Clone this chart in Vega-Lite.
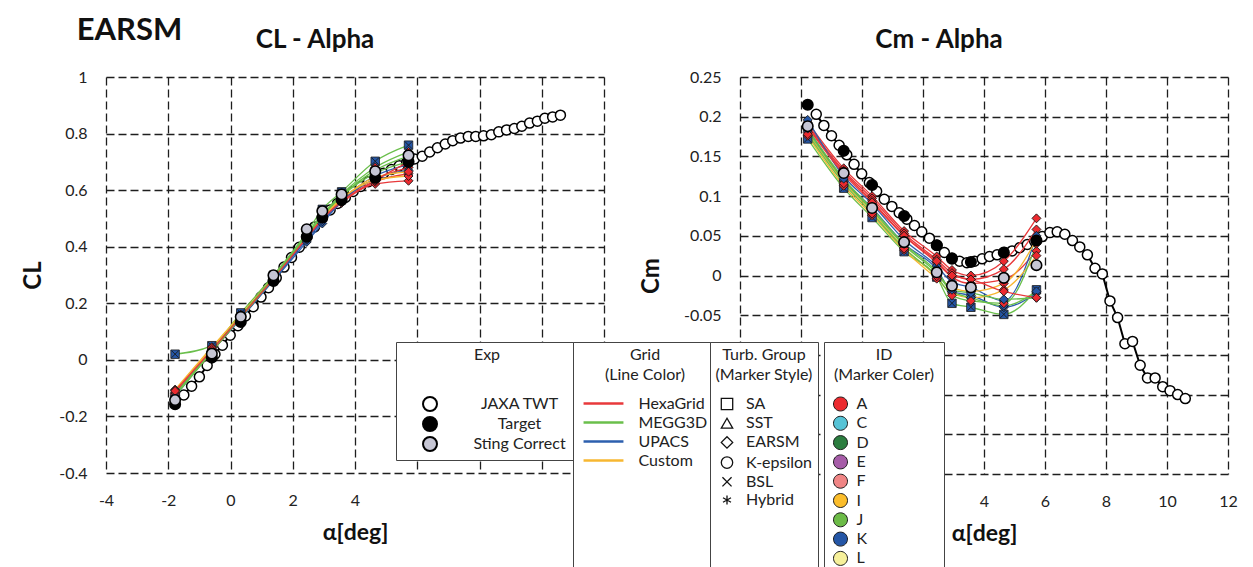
{
"$schema": "https://vega.github.io/schema/vega-lite/v6.json",
"padding": {"left": 21, "top": 15, "right": 5, "bottom": 0},
"title": {"text": "EARSM", "anchor": "start", "fontSize": 31, "offset": -20, "dx": 55},
"spacing": 35,
"datasets": {
"cfd": [
{"p":"CL","s":"S1","g":"HexaGrid","t":"EARSM","i":"A","a":-1.78,"v":-0.115},{"p":"CL","s":"S1","g":"HexaGrid","t":"EARSM","i":"A","a":-0.6,"v":0.030},{"p":"CL","s":"S1","g":"HexaGrid","t":"EARSM","i":"A","a":0.33,"v":0.150},{"p":"CL","s":"S1","g":"HexaGrid","t":"EARSM","i":"A","a":1.38,"v":0.285},{"p":"CL","s":"S1","g":"HexaGrid","t":"EARSM","i":"A","a":2.45,"v":0.430},{"p":"CL","s":"S1","g":"HexaGrid","t":"EARSM","i":"A","a":2.95,"v":0.495},{"p":"CL","s":"S1","g":"HexaGrid","t":"EARSM","i":"A","a":3.57,"v":0.555},{"p":"CL","s":"S1","g":"HexaGrid","t":"EARSM","i":"A","a":4.65,"v":0.622},{"p":"CL","s":"S1","g":"HexaGrid","t":"EARSM","i":"A","a":5.72,"v":0.633},
{"p":"CL","s":"S2","g":"HexaGrid","t":"EARSM","i":"A","a":-1.78,"v":-0.120},{"p":"CL","s":"S2","g":"HexaGrid","t":"EARSM","i":"A","a":-0.6,"v":0.028},{"p":"CL","s":"S2","g":"HexaGrid","t":"EARSM","i":"A","a":0.33,"v":0.148},{"p":"CL","s":"S2","g":"HexaGrid","t":"EARSM","i":"A","a":1.38,"v":0.283},{"p":"CL","s":"S2","g":"HexaGrid","t":"EARSM","i":"A","a":2.45,"v":0.428},{"p":"CL","s":"S2","g":"HexaGrid","t":"EARSM","i":"A","a":2.95,"v":0.492},{"p":"CL","s":"S2","g":"HexaGrid","t":"EARSM","i":"A","a":3.57,"v":0.558},{"p":"CL","s":"S2","g":"HexaGrid","t":"EARSM","i":"A","a":4.65,"v":0.630},{"p":"CL","s":"S2","g":"HexaGrid","t":"EARSM","i":"A","a":5.72,"v":0.658},
{"p":"CL","s":"S3","g":"HexaGrid","t":"EARSM","i":"A","a":-1.78,"v":-0.118},{"p":"CL","s":"S3","g":"HexaGrid","t":"EARSM","i":"A","a":-0.6,"v":0.032},{"p":"CL","s":"S3","g":"HexaGrid","t":"EARSM","i":"A","a":0.33,"v":0.152},{"p":"CL","s":"S3","g":"HexaGrid","t":"EARSM","i":"A","a":1.38,"v":0.288},{"p":"CL","s":"S3","g":"HexaGrid","t":"EARSM","i":"A","a":2.45,"v":0.435},{"p":"CL","s":"S3","g":"HexaGrid","t":"EARSM","i":"A","a":2.95,"v":0.500},{"p":"CL","s":"S3","g":"HexaGrid","t":"EARSM","i":"A","a":3.57,"v":0.565},{"p":"CL","s":"S3","g":"HexaGrid","t":"EARSM","i":"A","a":4.65,"v":0.640},{"p":"CL","s":"S3","g":"HexaGrid","t":"EARSM","i":"A","a":5.72,"v":0.680},
{"p":"CL","s":"S4","g":"MEGG3D","t":"BSL","i":"K","a":-1.78,"v":0.020},{"p":"CL","s":"S4","g":"MEGG3D","t":"BSL","i":"K","a":-0.6,"v":0.050},{"p":"CL","s":"S4","g":"MEGG3D","t":"BSL","i":"K","a":0.33,"v":0.166},{"p":"CL","s":"S4","g":"MEGG3D","t":"BSL","i":"K","a":1.38,"v":0.299},{"p":"CL","s":"S4","g":"MEGG3D","t":"BSL","i":"K","a":2.45,"v":0.450},{"p":"CL","s":"S4","g":"MEGG3D","t":"BSL","i":"K","a":2.95,"v":0.532},{"p":"CL","s":"S4","g":"MEGG3D","t":"BSL","i":"K","a":3.57,"v":0.594},{"p":"CL","s":"S4","g":"MEGG3D","t":"BSL","i":"K","a":4.65,"v":0.702},{"p":"CL","s":"S4","g":"MEGG3D","t":"BSL","i":"K","a":5.72,"v":0.759},
{"p":"CL","s":"S5","g":"UPACS","t":"EARSM","i":"K","a":-1.78,"v":-0.125},{"p":"CL","s":"S5","g":"UPACS","t":"EARSM","i":"K","a":-0.6,"v":0.035},{"p":"CL","s":"S5","g":"UPACS","t":"EARSM","i":"K","a":0.33,"v":0.150},{"p":"CL","s":"S5","g":"UPACS","t":"EARSM","i":"K","a":1.38,"v":0.280},{"p":"CL","s":"S5","g":"UPACS","t":"EARSM","i":"K","a":2.45,"v":0.417},{"p":"CL","s":"S5","g":"UPACS","t":"EARSM","i":"K","a":2.95,"v":0.482},{"p":"CL","s":"S5","g":"UPACS","t":"EARSM","i":"K","a":3.57,"v":0.560},{"p":"CL","s":"S5","g":"UPACS","t":"EARSM","i":"K","a":4.65,"v":0.640},{"p":"CL","s":"S5","g":"UPACS","t":"EARSM","i":"K","a":5.72,"v":0.670},
{"p":"CL","s":"S6","g":"UPACS","t":"EARSM","i":"K","a":-1.78,"v":-0.130},{"p":"CL","s":"S6","g":"UPACS","t":"EARSM","i":"K","a":-0.6,"v":0.030},{"p":"CL","s":"S6","g":"UPACS","t":"EARSM","i":"K","a":0.33,"v":0.145},{"p":"CL","s":"S6","g":"UPACS","t":"EARSM","i":"K","a":1.38,"v":0.283},{"p":"CL","s":"S6","g":"UPACS","t":"EARSM","i":"K","a":2.45,"v":0.425},{"p":"CL","s":"S6","g":"UPACS","t":"EARSM","i":"K","a":2.95,"v":0.490},{"p":"CL","s":"S6","g":"UPACS","t":"EARSM","i":"K","a":3.57,"v":0.565},{"p":"CL","s":"S6","g":"UPACS","t":"EARSM","i":"K","a":4.65,"v":0.650},{"p":"CL","s":"S6","g":"UPACS","t":"EARSM","i":"K","a":5.72,"v":0.690},
{"p":"CL","s":"S7","g":"Custom","t":"EARSM","i":"A","a":-1.78,"v":-0.105},{"p":"CL","s":"S7","g":"Custom","t":"EARSM","i":"A","a":-0.6,"v":0.045},{"p":"CL","s":"S7","g":"Custom","t":"EARSM","i":"A","a":0.33,"v":0.160},{"p":"CL","s":"S7","g":"Custom","t":"EARSM","i":"A","a":1.38,"v":0.292},{"p":"CL","s":"S7","g":"Custom","t":"EARSM","i":"A","a":2.45,"v":0.440},{"p":"CL","s":"S7","g":"Custom","t":"EARSM","i":"A","a":2.95,"v":0.505},{"p":"CL","s":"S7","g":"Custom","t":"EARSM","i":"A","a":3.57,"v":0.570},{"p":"CL","s":"S7","g":"Custom","t":"EARSM","i":"A","a":4.65,"v":0.635},{"p":"CL","s":"S7","g":"Custom","t":"EARSM","i":"A","a":5.72,"v":0.650},
{"p":"CL","s":"S8","g":"Custom","t":"EARSM","i":"A","a":-1.78,"v":-0.108},{"p":"CL","s":"S8","g":"Custom","t":"EARSM","i":"A","a":-0.6,"v":0.042},{"p":"CL","s":"S8","g":"Custom","t":"EARSM","i":"A","a":0.33,"v":0.158},{"p":"CL","s":"S8","g":"Custom","t":"EARSM","i":"A","a":1.38,"v":0.290},{"p":"CL","s":"S8","g":"Custom","t":"EARSM","i":"A","a":2.45,"v":0.438},{"p":"CL","s":"S8","g":"Custom","t":"EARSM","i":"A","a":2.95,"v":0.502},{"p":"CL","s":"S8","g":"Custom","t":"EARSM","i":"A","a":3.57,"v":0.568},{"p":"CL","s":"S8","g":"Custom","t":"EARSM","i":"A","a":4.65,"v":0.645},{"p":"CL","s":"S8","g":"Custom","t":"EARSM","i":"A","a":5.72,"v":0.665},
{"p":"CL","s":"S9","g":"MEGG3D","t":"EARSM","i":"K","a":-1.78,"v":-0.125},{"p":"CL","s":"S9","g":"MEGG3D","t":"EARSM","i":"K","a":-0.6,"v":0.030},{"p":"CL","s":"S9","g":"MEGG3D","t":"EARSM","i":"K","a":0.33,"v":0.150},{"p":"CL","s":"S9","g":"MEGG3D","t":"EARSM","i":"K","a":1.38,"v":0.290},{"p":"CL","s":"S9","g":"MEGG3D","t":"EARSM","i":"K","a":2.45,"v":0.440},{"p":"CL","s":"S9","g":"MEGG3D","t":"EARSM","i":"K","a":2.95,"v":0.510},{"p":"CL","s":"S9","g":"MEGG3D","t":"EARSM","i":"K","a":3.57,"v":0.580},{"p":"CL","s":"S9","g":"MEGG3D","t":"EARSM","i":"K","a":4.65,"v":0.670},{"p":"CL","s":"S9","g":"MEGG3D","t":"EARSM","i":"K","a":5.72,"v":0.720},
{"p":"CL","s":"S10","g":"MEGG3D","t":"EARSM","i":"A","a":-1.78,"v":-0.122},{"p":"CL","s":"S10","g":"MEGG3D","t":"EARSM","i":"A","a":-0.6,"v":0.033},{"p":"CL","s":"S10","g":"MEGG3D","t":"EARSM","i":"A","a":0.33,"v":0.155},{"p":"CL","s":"S10","g":"MEGG3D","t":"EARSM","i":"A","a":1.38,"v":0.292},{"p":"CL","s":"S10","g":"MEGG3D","t":"EARSM","i":"A","a":2.45,"v":0.445},{"p":"CL","s":"S10","g":"MEGG3D","t":"EARSM","i":"A","a":2.95,"v":0.515},{"p":"CL","s":"S10","g":"MEGG3D","t":"EARSM","i":"A","a":3.57,"v":0.585},{"p":"CL","s":"S10","g":"MEGG3D","t":"EARSM","i":"A","a":4.65,"v":0.680},{"p":"CL","s":"S10","g":"MEGG3D","t":"EARSM","i":"A","a":5.72,"v":0.735},
{"p":"CL","s":"S11","g":"MEGG3D","t":"EARSM","i":"K","a":-1.78,"v":-0.128},{"p":"CL","s":"S11","g":"MEGG3D","t":"EARSM","i":"K","a":-0.6,"v":0.028},{"p":"CL","s":"S11","g":"MEGG3D","t":"EARSM","i":"K","a":0.33,"v":0.150},{"p":"CL","s":"S11","g":"MEGG3D","t":"EARSM","i":"K","a":1.38,"v":0.287},{"p":"CL","s":"S11","g":"MEGG3D","t":"EARSM","i":"K","a":2.45,"v":0.438},{"p":"CL","s":"S11","g":"MEGG3D","t":"EARSM","i":"K","a":2.95,"v":0.508},{"p":"CL","s":"S11","g":"MEGG3D","t":"EARSM","i":"K","a":3.57,"v":0.578},{"p":"CL","s":"S11","g":"MEGG3D","t":"EARSM","i":"K","a":4.65,"v":0.660},{"p":"CL","s":"S11","g":"MEGG3D","t":"EARSM","i":"K","a":5.72,"v":0.700},
{"p":"CL","s":"S12","g":"HexaGrid","t":"EARSM","i":"A","a":-1.78,"v":-0.110},{"p":"CL","s":"S12","g":"HexaGrid","t":"EARSM","i":"A","a":-0.6,"v":0.035},{"p":"CL","s":"S12","g":"HexaGrid","t":"EARSM","i":"A","a":0.33,"v":0.152},{"p":"CL","s":"S12","g":"HexaGrid","t":"EARSM","i":"A","a":1.38,"v":0.287},{"p":"CL","s":"S12","g":"HexaGrid","t":"EARSM","i":"A","a":2.45,"v":0.432},{"p":"CL","s":"S12","g":"HexaGrid","t":"EARSM","i":"A","a":2.95,"v":0.498},{"p":"CL","s":"S12","g":"HexaGrid","t":"EARSM","i":"A","a":3.57,"v":0.560},{"p":"CL","s":"S12","g":"HexaGrid","t":"EARSM","i":"A","a":4.65,"v":0.635},{"p":"CL","s":"S12","g":"HexaGrid","t":"EARSM","i":"A","a":5.72,"v":0.700},
{"p":"Cm","s":"S1","g":"HexaGrid","t":"EARSM","i":"A","a":-1.78,"v":0.193},{"p":"Cm","s":"S1","g":"HexaGrid","t":"EARSM","i":"A","a":-0.6,"v":0.135},{"p":"Cm","s":"S1","g":"HexaGrid","t":"EARSM","i":"A","a":0.33,"v":0.100},{"p":"Cm","s":"S1","g":"HexaGrid","t":"EARSM","i":"A","a":1.38,"v":0.056},{"p":"Cm","s":"S1","g":"HexaGrid","t":"EARSM","i":"A","a":2.45,"v":0.024},{"p":"Cm","s":"S1","g":"HexaGrid","t":"EARSM","i":"A","a":2.95,"v":0.007},{"p":"Cm","s":"S1","g":"HexaGrid","t":"EARSM","i":"A","a":3.57,"v":0.000},{"p":"Cm","s":"S1","g":"HexaGrid","t":"EARSM","i":"A","a":4.65,"v":0.018},{"p":"Cm","s":"S1","g":"HexaGrid","t":"EARSM","i":"A","a":5.72,"v":0.072},
{"p":"Cm","s":"S2","g":"HexaGrid","t":"EARSM","i":"A","a":-1.78,"v":0.190},{"p":"Cm","s":"S2","g":"HexaGrid","t":"EARSM","i":"A","a":-0.6,"v":0.132},{"p":"Cm","s":"S2","g":"HexaGrid","t":"EARSM","i":"A","a":0.33,"v":0.097},{"p":"Cm","s":"S2","g":"HexaGrid","t":"EARSM","i":"A","a":1.38,"v":0.053},{"p":"Cm","s":"S2","g":"HexaGrid","t":"EARSM","i":"A","a":2.45,"v":0.020},{"p":"Cm","s":"S2","g":"HexaGrid","t":"EARSM","i":"A","a":2.95,"v":0.003},{"p":"Cm","s":"S2","g":"HexaGrid","t":"EARSM","i":"A","a":3.57,"v":-0.005},{"p":"Cm","s":"S2","g":"HexaGrid","t":"EARSM","i":"A","a":4.65,"v":0.008},{"p":"Cm","s":"S2","g":"HexaGrid","t":"EARSM","i":"A","a":5.72,"v":0.058},
{"p":"Cm","s":"S3","g":"HexaGrid","t":"EARSM","i":"A","a":-1.78,"v":0.188},{"p":"Cm","s":"S3","g":"HexaGrid","t":"EARSM","i":"A","a":-0.6,"v":0.130},{"p":"Cm","s":"S3","g":"HexaGrid","t":"EARSM","i":"A","a":0.33,"v":0.094},{"p":"Cm","s":"S3","g":"HexaGrid","t":"EARSM","i":"A","a":1.38,"v":0.050},{"p":"Cm","s":"S3","g":"HexaGrid","t":"EARSM","i":"A","a":2.45,"v":0.016},{"p":"Cm","s":"S3","g":"HexaGrid","t":"EARSM","i":"A","a":2.95,"v":-0.002},{"p":"Cm","s":"S3","g":"HexaGrid","t":"EARSM","i":"A","a":3.57,"v":-0.010},{"p":"Cm","s":"S3","g":"HexaGrid","t":"EARSM","i":"A","a":4.65,"v":-0.005},{"p":"Cm","s":"S3","g":"HexaGrid","t":"EARSM","i":"A","a":5.72,"v":0.031},
{"p":"Cm","s":"S4","g":"MEGG3D","t":"BSL","i":"K","a":-1.78,"v":0.172},{"p":"Cm","s":"S4","g":"MEGG3D","t":"BSL","i":"K","a":-0.6,"v":0.110},{"p":"Cm","s":"S4","g":"MEGG3D","t":"BSL","i":"K","a":0.33,"v":0.073},{"p":"Cm","s":"S4","g":"MEGG3D","t":"BSL","i":"K","a":1.38,"v":0.030},{"p":"Cm","s":"S4","g":"MEGG3D","t":"BSL","i":"K","a":2.45,"v":-0.002},{"p":"Cm","s":"S4","g":"MEGG3D","t":"BSL","i":"K","a":2.95,"v":-0.035},{"p":"Cm","s":"S4","g":"MEGG3D","t":"BSL","i":"K","a":3.57,"v":-0.040},{"p":"Cm","s":"S4","g":"MEGG3D","t":"BSL","i":"K","a":4.65,"v":-0.049},{"p":"Cm","s":"S4","g":"MEGG3D","t":"BSL","i":"K","a":5.72,"v":-0.018},
{"p":"Cm","s":"S5","g":"UPACS","t":"EARSM","i":"K","a":-1.78,"v":0.196},{"p":"Cm","s":"S5","g":"UPACS","t":"EARSM","i":"K","a":-0.6,"v":0.125},{"p":"Cm","s":"S5","g":"UPACS","t":"EARSM","i":"K","a":0.33,"v":0.090},{"p":"Cm","s":"S5","g":"UPACS","t":"EARSM","i":"K","a":1.38,"v":0.045},{"p":"Cm","s":"S5","g":"UPACS","t":"EARSM","i":"K","a":2.45,"v":0.012},{"p":"Cm","s":"S5","g":"UPACS","t":"EARSM","i":"K","a":2.95,"v":-0.008},{"p":"Cm","s":"S5","g":"UPACS","t":"EARSM","i":"K","a":3.57,"v":-0.015},{"p":"Cm","s":"S5","g":"UPACS","t":"EARSM","i":"K","a":4.65,"v":-0.032},{"p":"Cm","s":"S5","g":"UPACS","t":"EARSM","i":"K","a":5.72,"v":0.050},
{"p":"Cm","s":"S6","g":"UPACS","t":"EARSM","i":"K","a":-1.78,"v":0.185},{"p":"Cm","s":"S6","g":"UPACS","t":"EARSM","i":"K","a":-0.6,"v":0.120},{"p":"Cm","s":"S6","g":"UPACS","t":"EARSM","i":"K","a":0.33,"v":0.085},{"p":"Cm","s":"S6","g":"UPACS","t":"EARSM","i":"K","a":1.38,"v":0.040},{"p":"Cm","s":"S6","g":"UPACS","t":"EARSM","i":"K","a":2.45,"v":0.008},{"p":"Cm","s":"S6","g":"UPACS","t":"EARSM","i":"K","a":2.95,"v":-0.020},{"p":"Cm","s":"S6","g":"UPACS","t":"EARSM","i":"K","a":3.57,"v":-0.025},{"p":"Cm","s":"S6","g":"UPACS","t":"EARSM","i":"K","a":4.65,"v":-0.040},{"p":"Cm","s":"S6","g":"UPACS","t":"EARSM","i":"K","a":5.72,"v":-0.022},
{"p":"Cm","s":"S7","g":"Custom","t":"EARSM","i":"A","a":-1.78,"v":0.180},{"p":"Cm","s":"S7","g":"Custom","t":"EARSM","i":"A","a":-0.6,"v":0.118},{"p":"Cm","s":"S7","g":"Custom","t":"EARSM","i":"A","a":0.33,"v":0.080},{"p":"Cm","s":"S7","g":"Custom","t":"EARSM","i":"A","a":1.38,"v":0.035},{"p":"Cm","s":"S7","g":"Custom","t":"EARSM","i":"A","a":2.45,"v":0.000},{"p":"Cm","s":"S7","g":"Custom","t":"EARSM","i":"A","a":2.95,"v":-0.015},{"p":"Cm","s":"S7","g":"Custom","t":"EARSM","i":"A","a":3.57,"v":-0.020},{"p":"Cm","s":"S7","g":"Custom","t":"EARSM","i":"A","a":4.65,"v":-0.010},{"p":"Cm","s":"S7","g":"Custom","t":"EARSM","i":"A","a":5.72,"v":0.045},
{"p":"Cm","s":"S8","g":"Custom","t":"EARSM","i":"A","a":-1.78,"v":0.176},{"p":"Cm","s":"S8","g":"Custom","t":"EARSM","i":"A","a":-0.6,"v":0.113},{"p":"Cm","s":"S8","g":"Custom","t":"EARSM","i":"A","a":0.33,"v":0.076},{"p":"Cm","s":"S8","g":"Custom","t":"EARSM","i":"A","a":1.38,"v":0.032},{"p":"Cm","s":"S8","g":"Custom","t":"EARSM","i":"A","a":2.45,"v":-0.004},{"p":"Cm","s":"S8","g":"Custom","t":"EARSM","i":"A","a":2.95,"v":-0.022},{"p":"Cm","s":"S8","g":"Custom","t":"EARSM","i":"A","a":3.57,"v":-0.028},{"p":"Cm","s":"S8","g":"Custom","t":"EARSM","i":"A","a":4.65,"v":-0.018},{"p":"Cm","s":"S8","g":"Custom","t":"EARSM","i":"A","a":5.72,"v":0.025},
{"p":"Cm","s":"S9","g":"MEGG3D","t":"EARSM","i":"K","a":-1.78,"v":0.182},{"p":"Cm","s":"S9","g":"MEGG3D","t":"EARSM","i":"K","a":-0.6,"v":0.120},{"p":"Cm","s":"S9","g":"MEGG3D","t":"EARSM","i":"K","a":0.33,"v":0.082},{"p":"Cm","s":"S9","g":"MEGG3D","t":"EARSM","i":"K","a":1.38,"v":0.038},{"p":"Cm","s":"S9","g":"MEGG3D","t":"EARSM","i":"K","a":2.45,"v":0.003},{"p":"Cm","s":"S9","g":"MEGG3D","t":"EARSM","i":"K","a":2.95,"v":-0.020},{"p":"Cm","s":"S9","g":"MEGG3D","t":"EARSM","i":"K","a":3.57,"v":-0.028},{"p":"Cm","s":"S9","g":"MEGG3D","t":"EARSM","i":"K","a":4.65,"v":-0.038},{"p":"Cm","s":"S9","g":"MEGG3D","t":"EARSM","i":"K","a":5.72,"v":-0.020},
{"p":"Cm","s":"S10","g":"MEGG3D","t":"EARSM","i":"A","a":-1.78,"v":0.178},{"p":"Cm","s":"S10","g":"MEGG3D","t":"EARSM","i":"A","a":-0.6,"v":0.116},{"p":"Cm","s":"S10","g":"MEGG3D","t":"EARSM","i":"A","a":0.33,"v":0.078},{"p":"Cm","s":"S10","g":"MEGG3D","t":"EARSM","i":"A","a":1.38,"v":0.034},{"p":"Cm","s":"S10","g":"MEGG3D","t":"EARSM","i":"A","a":2.45,"v":-0.001},{"p":"Cm","s":"S10","g":"MEGG3D","t":"EARSM","i":"A","a":2.95,"v":-0.025},{"p":"Cm","s":"S10","g":"MEGG3D","t":"EARSM","i":"A","a":3.57,"v":-0.032},{"p":"Cm","s":"S10","g":"MEGG3D","t":"EARSM","i":"A","a":4.65,"v":-0.035},{"p":"Cm","s":"S10","g":"MEGG3D","t":"EARSM","i":"A","a":5.72,"v":0.040},
{"p":"Cm","s":"S11","g":"MEGG3D","t":"EARSM","i":"K","a":-1.78,"v":0.185},{"p":"Cm","s":"S11","g":"MEGG3D","t":"EARSM","i":"K","a":-0.6,"v":0.122},{"p":"Cm","s":"S11","g":"MEGG3D","t":"EARSM","i":"K","a":0.33,"v":0.084},{"p":"Cm","s":"S11","g":"MEGG3D","t":"EARSM","i":"K","a":1.38,"v":0.040},{"p":"Cm","s":"S11","g":"MEGG3D","t":"EARSM","i":"K","a":2.45,"v":0.005},{"p":"Cm","s":"S11","g":"MEGG3D","t":"EARSM","i":"K","a":2.95,"v":-0.018},{"p":"Cm","s":"S11","g":"MEGG3D","t":"EARSM","i":"K","a":3.57,"v":-0.022},{"p":"Cm","s":"S11","g":"MEGG3D","t":"EARSM","i":"K","a":4.65,"v":-0.030},{"p":"Cm","s":"S11","g":"MEGG3D","t":"EARSM","i":"K","a":5.72,"v":-0.028},
{"p":"Cm","s":"S12","g":"HexaGrid","t":"EARSM","i":"A","a":-1.78,"v":0.187},{"p":"Cm","s":"S12","g":"HexaGrid","t":"EARSM","i":"A","a":-0.6,"v":0.128},{"p":"Cm","s":"S12","g":"HexaGrid","t":"EARSM","i":"A","a":0.33,"v":0.092},{"p":"Cm","s":"S12","g":"HexaGrid","t":"EARSM","i":"A","a":1.38,"v":0.050},{"p":"Cm","s":"S12","g":"HexaGrid","t":"EARSM","i":"A","a":2.45,"v":0.018},{"p":"Cm","s":"S12","g":"HexaGrid","t":"EARSM","i":"A","a":2.95,"v":0.000},{"p":"Cm","s":"S12","g":"HexaGrid","t":"EARSM","i":"A","a":3.57,"v":-0.005},{"p":"Cm","s":"S12","g":"HexaGrid","t":"EARSM","i":"A","a":4.65,"v":-0.020},{"p":"Cm","s":"S12","g":"HexaGrid","t":"EARSM","i":"A","a":5.72,"v":-0.028}
],
"exp": [
{"p":"CL","e":"JAXA TWT","a":-1.50,"v":-0.124},{"p":"CL","e":"JAXA TWT","a":-1.25,"v":-0.093},{"p":"CL","e":"JAXA TWT","a":-1.00,"v":-0.060},{"p":"CL","e":"JAXA TWT","a":-0.75,"v":-0.020},{"p":"CL","e":"JAXA TWT","a":-0.50,"v":0.020},{"p":"CL","e":"JAXA TWT","a":-0.26,"v":0.052},{"p":"CL","e":"JAXA TWT","a":-0.01,"v":0.087},{"p":"CL","e":"JAXA TWT","a":0.24,"v":0.121},{"p":"CL","e":"JAXA TWT","a":0.48,"v":0.155},{"p":"CL","e":"JAXA TWT","a":0.73,"v":0.188},{"p":"CL","e":"JAXA TWT","a":0.98,"v":0.222},{"p":"CL","e":"JAXA TWT","a":1.22,"v":0.255},{"p":"CL","e":"JAXA TWT","a":1.47,"v":0.290},{"p":"CL","e":"JAXA TWT","a":1.72,"v":0.328},{"p":"CL","e":"JAXA TWT","a":1.96,"v":0.362},{"p":"CL","e":"JAXA TWT","a":2.21,"v":0.398},{"p":"CL","e":"JAXA TWT","a":2.46,"v":0.436},{"p":"CL","e":"JAXA TWT","a":2.70,"v":0.470},{"p":"CL","e":"JAXA TWT","a":2.95,"v":0.503},{"p":"CL","e":"JAXA TWT","a":3.20,"v":0.530},{"p":"CL","e":"JAXA TWT","a":3.44,"v":0.553},{"p":"CL","e":"JAXA TWT","a":3.69,"v":0.574},{"p":"CL","e":"JAXA TWT","a":3.94,"v":0.595},{"p":"CL","e":"JAXA TWT","a":4.18,"v":0.613},{"p":"CL","e":"JAXA TWT","a":4.43,"v":0.630},{"p":"CL","e":"JAXA TWT","a":4.68,"v":0.646},{"p":"CL","e":"JAXA TWT","a":4.92,"v":0.660},{"p":"CL","e":"JAXA TWT","a":5.17,"v":0.673},{"p":"CL","e":"JAXA TWT","a":5.42,"v":0.686},{"p":"CL","e":"JAXA TWT","a":5.66,"v":0.698},{"p":"CL","e":"JAXA TWT","a":5.91,"v":0.710},{"p":"CL","e":"JAXA TWT","a":6.16,"v":0.720},{"p":"CL","e":"JAXA TWT","a":6.40,"v":0.735},{"p":"CL","e":"JAXA TWT","a":6.65,"v":0.750},{"p":"CL","e":"JAXA TWT","a":6.90,"v":0.763},{"p":"CL","e":"JAXA TWT","a":7.14,"v":0.775},{"p":"CL","e":"JAXA TWT","a":7.39,"v":0.784},{"p":"CL","e":"JAXA TWT","a":7.64,"v":0.790},{"p":"CL","e":"JAXA TWT","a":7.88,"v":0.790},{"p":"CL","e":"JAXA TWT","a":8.13,"v":0.792},{"p":"CL","e":"JAXA TWT","a":8.38,"v":0.796},{"p":"CL","e":"JAXA TWT","a":8.62,"v":0.806},{"p":"CL","e":"JAXA TWT","a":8.87,"v":0.813},{"p":"CL","e":"JAXA TWT","a":9.12,"v":0.818},{"p":"CL","e":"JAXA TWT","a":9.36,"v":0.826},{"p":"CL","e":"JAXA TWT","a":9.61,"v":0.837},{"p":"CL","e":"JAXA TWT","a":9.86,"v":0.844},{"p":"CL","e":"JAXA TWT","a":10.10,"v":0.854},{"p":"CL","e":"JAXA TWT","a":10.35,"v":0.859},{"p":"CL","e":"JAXA TWT","a":10.60,"v":0.865},
{"p":"Cm","e":"JAXA TWT","a":-1.50,"v":0.203},{"p":"Cm","e":"JAXA TWT","a":-1.25,"v":0.189},{"p":"Cm","e":"JAXA TWT","a":-1.00,"v":0.176},{"p":"Cm","e":"JAXA TWT","a":-0.75,"v":0.164},{"p":"Cm","e":"JAXA TWT","a":-0.50,"v":0.152},{"p":"Cm","e":"JAXA TWT","a":-0.26,"v":0.140},{"p":"Cm","e":"JAXA TWT","a":-0.01,"v":0.128},{"p":"Cm","e":"JAXA TWT","a":0.24,"v":0.117},{"p":"Cm","e":"JAXA TWT","a":0.48,"v":0.106},{"p":"Cm","e":"JAXA TWT","a":0.73,"v":0.096},{"p":"Cm","e":"JAXA TWT","a":0.98,"v":0.087},{"p":"Cm","e":"JAXA TWT","a":1.22,"v":0.079},{"p":"Cm","e":"JAXA TWT","a":1.47,"v":0.071},{"p":"Cm","e":"JAXA TWT","a":1.72,"v":0.063},{"p":"Cm","e":"JAXA TWT","a":1.96,"v":0.055},{"p":"Cm","e":"JAXA TWT","a":2.21,"v":0.047},{"p":"Cm","e":"JAXA TWT","a":2.46,"v":0.038},{"p":"Cm","e":"JAXA TWT","a":2.70,"v":0.029},{"p":"Cm","e":"JAXA TWT","a":2.95,"v":0.022},{"p":"Cm","e":"JAXA TWT","a":3.20,"v":0.018},{"p":"Cm","e":"JAXA TWT","a":3.44,"v":0.016},{"p":"Cm","e":"JAXA TWT","a":3.69,"v":0.018},{"p":"Cm","e":"JAXA TWT","a":3.94,"v":0.021},{"p":"Cm","e":"JAXA TWT","a":4.18,"v":0.024},{"p":"Cm","e":"JAXA TWT","a":4.43,"v":0.026},{"p":"Cm","e":"JAXA TWT","a":4.68,"v":0.029},{"p":"Cm","e":"JAXA TWT","a":4.92,"v":0.031},{"p":"Cm","e":"JAXA TWT","a":5.17,"v":0.035},{"p":"Cm","e":"JAXA TWT","a":5.42,"v":0.039},{"p":"Cm","e":"JAXA TWT","a":5.66,"v":0.043},{"p":"Cm","e":"JAXA TWT","a":5.91,"v":0.049},{"p":"Cm","e":"JAXA TWT","a":6.16,"v":0.054},{"p":"Cm","e":"JAXA TWT","a":6.40,"v":0.055},{"p":"Cm","e":"JAXA TWT","a":6.65,"v":0.052},{"p":"Cm","e":"JAXA TWT","a":6.90,"v":0.044},{"p":"Cm","e":"JAXA TWT","a":7.14,"v":0.036},{"p":"Cm","e":"JAXA TWT","a":7.39,"v":0.026},{"p":"Cm","e":"JAXA TWT","a":7.64,"v":0.009},{"p":"Cm","e":"JAXA TWT","a":7.88,"v":0.002},{"p":"Cm","e":"JAXA TWT","a":8.13,"v":-0.032},{"p":"Cm","e":"JAXA TWT","a":8.38,"v":-0.053},{"p":"Cm","e":"JAXA TWT","a":8.62,"v":-0.086},{"p":"Cm","e":"JAXA TWT","a":8.87,"v":-0.083},{"p":"Cm","e":"JAXA TWT","a":9.12,"v":-0.113},{"p":"Cm","e":"JAXA TWT","a":9.36,"v":-0.129},{"p":"Cm","e":"JAXA TWT","a":9.61,"v":-0.129},{"p":"Cm","e":"JAXA TWT","a":9.86,"v":-0.140},{"p":"Cm","e":"JAXA TWT","a":10.10,"v":-0.145},{"p":"Cm","e":"JAXA TWT","a":10.35,"v":-0.150},{"p":"Cm","e":"JAXA TWT","a":10.60,"v":-0.155},
{"p":"CL","e":"Target","a":-1.78,"v":-0.157},{"p":"CL","e":"Target","a":-0.6,"v":0.008},{"p":"CL","e":"Target","a":0.33,"v":0.134},{"p":"CL","e":"Target","a":1.38,"v":0.279},{"p":"CL","e":"Target","a":2.45,"v":0.435},{"p":"CL","e":"Target","a":2.95,"v":0.503},{"p":"CL","e":"Target","a":3.57,"v":0.565},{"p":"CL","e":"Target","a":4.65,"v":0.644},{"p":"CL","e":"Target","a":5.72,"v":0.700},
{"p":"CL","e":"Sting Correct","a":-1.78,"v":-0.142},{"p":"CL","e":"Sting Correct","a":-0.6,"v":0.022},{"p":"CL","e":"Sting Correct","a":0.33,"v":0.152},{"p":"CL","e":"Sting Correct","a":1.38,"v":0.299},{"p":"CL","e":"Sting Correct","a":2.45,"v":0.462},{"p":"CL","e":"Sting Correct","a":2.95,"v":0.526},{"p":"CL","e":"Sting Correct","a":3.57,"v":0.585},{"p":"CL","e":"Sting Correct","a":4.65,"v":0.667},{"p":"CL","e":"Sting Correct","a":5.72,"v":0.723},
{"p":"Cm","e":"Target","a":-1.78,"v":0.215},{"p":"Cm","e":"Target","a":-0.6,"v":0.157},{"p":"Cm","e":"Target","a":0.33,"v":0.114},{"p":"Cm","e":"Target","a":1.38,"v":0.075},{"p":"Cm","e":"Target","a":2.45,"v":0.038},{"p":"Cm","e":"Target","a":2.95,"v":0.021},{"p":"Cm","e":"Target","a":3.57,"v":0.017},{"p":"Cm","e":"Target","a":4.65,"v":0.029},{"p":"Cm","e":"Target","a":5.72,"v":0.044},
{"p":"Cm","e":"Sting Correct","a":-1.78,"v":0.188},{"p":"Cm","e":"Sting Correct","a":-0.6,"v":0.129},{"p":"Cm","e":"Sting Correct","a":0.33,"v":0.085},{"p":"Cm","e":"Sting Correct","a":1.38,"v":0.042},{"p":"Cm","e":"Sting Correct","a":2.45,"v":0.004},{"p":"Cm","e":"Sting Correct","a":2.95,"v":-0.013},{"p":"Cm","e":"Sting Correct","a":3.57,"v":-0.015},{"p":"Cm","e":"Sting Correct","a":4.65,"v":-0.003},{"p":"Cm","e":"Sting Correct","a":5.72,"v":0.013}
]
},
"hconcat": [
{
"width": 498, "height": 396,
"title": {"text": "CL - Alpha", "dx": -40, "offset": 16},
"layer": [
{"data": {"name": "exp"}, "transform": [{"filter": "datum.p == 'CL' && datum.e == 'JAXA TWT'"}],
 "mark": {"type": "line", "color": "black", "strokeWidth": 2},
 "encoding": {
  "x": {"field": "a", "type": "quantitative", "scale": {"domain": [-4, 12], "nice": false, "zero": false}, "axis": {"values": [-4,-2,0,2,4,6,8,10,12], "tickCount": 30, "labelExpr": "datum.value <= 4 ? '' + datum.value : ''", "title": "α[deg]"}},
  "y": {"field": "v", "type": "quantitative", "scale": {"domain": [-0.4, 1], "nice": false, "zero": false}, "axis": {"values": [-0.4,-0.2,0,0.2,0.4,0.6,0.8,1], "tickCount": 30, "labelExpr": "'' + datum.value", "title": "CL", "titlePadding": 13}}
 }},
{"data": {"name": "exp"}, "transform": [{"filter": "datum.p == 'CL' && datum.e == 'JAXA TWT'"}],
 "mark": {"type": "point", "filled": true, "stroke": "black", "strokeWidth": 1.5, "size": 100, "opacity": 1},
 "encoding": {
  "x": {"field": "a", "type": "quantitative"},
  "y": {"field": "v", "type": "quantitative"},
  "color": {"field": "e", "type": "nominal", "scale": {"domain": ["JAXA TWT", "Target", "Sting Correct"], "range": ["#ffffff", "#000000", "#c6c6d4"]},
   "legend": {"orient": "none", "legendX": 290, "legendY": 265, "title": ["Exp", " "], "titleAnchor": "middle", "titleAlign": "center", "titleFontSize": 16, "titleFontWeight": "normal", "titleLineHeight": 20, "titlePadding": 13, "padding": 5, "strokeColor": "#444", "fillColor": "white", "labelFontSize": 16, "labelAlign": "center", "labelOffset": 81.5, "symbolOffset": 21, "symbolSize": 196, "rowPadding": -2, "symbolStrokeWidth": 2, "symbolStrokeColor": "black", "symbolType": "M-1,0A1,1,0,1,0,1,0A1,1,0,1,0,-1,0M19.8,0L19.8,0"}}
 }},
{"data": {"name": "cfd"}, "transform": [{"filter": "datum.p == 'CL'"}],
 "mark": {"type": "line", "interpolate": "monotone", "strokeWidth": 1.3},
 "encoding": {
  "x": {"field": "a", "type": "quantitative"},
  "y": {"field": "v", "type": "quantitative"},
  "detail": {"field": "s"},
  "stroke": {"field": "g", "type": "nominal", "scale": {"domain": ["HexaGrid", "MEGG3D", "UPACS", "Custom", " ", "  ", "   ", "    ", "     "], "range": ["#e8393b", "#6abf4b", "#2d5fae", "#f7b731", "transparent", "transparent", "transparent", "transparent", "transparent"]},
   "legend": {"orient": "none", "legendX": 467, "legendY": 265, "title": ["Grid", "(Line Color)"], "titleAnchor": "middle", "titleAlign": "center", "titleFontSize": 16, "titleFontWeight": "normal", "titleLineHeight": 20, "titlePadding": 12, "padding": 5, "strokeColor": "#444", "fillColor": "white", "labelFontSize": 16, "labelOffset": 26.5, "symbolOffset": 17, "symbolSize": 196, "rowPadding": 2, "symbolStrokeWidth": 2.5, "symbolType": "M-2.85,0L2.85,0M14.7,0L14.7,0"}}
 }},
{"data": {"name": "cfd"}, "transform": [{"filter": "datum.p == 'CL' && datum.t == 'BSL'"}],
 "mark": {"type": "point", "shape": "square", "filled": true, "stroke": "#1a1a1a", "strokeWidth": 0.8, "size": 72, "opacity": 1},
 "encoding": {
  "x": {"field": "a", "type": "quantitative"},
  "y": {"field": "v", "type": "quantitative"},
  "fill": {"field": "i", "type": "nominal"}
 }},
{"data": {"name": "cfd"}, "transform": [{"filter": "datum.p == 'CL'"}],
 "mark": {"type": "point", "filled": true, "stroke": "#1a1a1a", "strokeWidth": 0.9, "size": 80, "opacity": 1},
 "encoding": {
  "x": {"field": "a", "type": "quantitative"},
  "y": {"field": "v", "type": "quantitative"},
  "shape": {"field": "t", "type": "nominal", "scale": {"domain": ["SA", "SST", "EARSM", "K-epsilon", "BSL", "Hybrid"], "range": ["square", "triangle-up", "diamond", "circle", "M-0.8,-0.8L0.8,0.8M-0.8,0.8L0.8,-0.8", "M0,-0.8L0,0.8M-0.7,-0.4L0.7,0.4M-0.7,0.4L0.7,-0.4M0,13L0,13"]},
   "legend": {"orient": "none", "legendX": 604, "legendY": 265, "title": ["Turb. Group", "(Marker Style)"], "titleAnchor": "middle", "titleAlign": "center", "titleFontSize": 16, "titleFontWeight": "normal", "titleLineHeight": 20, "titlePadding": 13, "padding": 5, "strokeColor": "#444", "fillColor": "white", "labelFontSize": 16, "labelOffset": 11, "symbolOffset": 3, "symbolSize": 130, "rowPadding": 2.2, "symbolFillColor": "transparent", "symbolStrokeColor": "#111", "symbolStrokeWidth": 1.3}},
  "fill": {"field": "i", "type": "nominal", "scale": {"domain": ["A", "C", "D", "E", "F", "I", "J", "K", "L"], "range": ["#ec2a2f", "#56c3d6", "#2c7d3f", "#a65ca8", "#f08585", "#fbbd2b", "#6cbb47", "#2456a6", "#f6f09a"]},
   "legend": {"orient": "none", "legendX": 718, "legendY": 265, "title": ["ID", "(Marker Coler)"], "titleAnchor": "middle", "titleAlign": "center", "titleFontSize": 16, "titleFontWeight": "normal", "titleLineHeight": 20, "titlePadding": 13, "padding": 5, "strokeColor": "#444", "fillColor": "white", "labelFontSize": 16, "labelOffset": 8, "symbolOffset": 3.5, "symbolSize": 196, "rowPadding": 1.3, "symbolStrokeColor": "#222", "symbolStrokeWidth": 1, "symbolType": "M-1,0A1,1,0,1,0,1,0A1,1,0,1,0,-1,0M13.7,0L13.7,0"}}
 }},
{"data": {"name": "exp"}, "transform": [{"filter": "datum.p == 'CL' && datum.e != 'JAXA TWT'"}],
 "mark": {"type": "point", "filled": true, "stroke": "black", "strokeWidth": 1.6, "size": 110, "opacity": 1},
 "encoding": {
  "x": {"field": "a", "type": "quantitative"},
  "y": {"field": "v", "type": "quantitative"},
  "color": {"field": "e", "type": "nominal", "legend": null}
 }}
]
},
{
"width": 488, "height": 397,
"title": {"text": "Cm - Alpha", "dx": -45, "offset": 16},
"layer": [
{"data": {"name": "exp"}, "transform": [{"filter": "datum.p == 'Cm' && datum.e == 'JAXA TWT'"}],
 "mark": {"type": "line", "color": "black", "strokeWidth": 2},
 "encoding": {
  "x": {"field": "a", "type": "quantitative", "scale": {"domain": [-4, 12], "nice": false, "zero": false}, "axis": {"values": [-4,-2,0,2,4,6,8,10,12], "tickCount": 30, "labelExpr": "datum.value >= 4 ? '' + datum.value : ''", "title": "α[deg]"}},
  "y": {"field": "v", "type": "quantitative", "scale": {"domain": [-0.25, 0.25], "nice": false, "zero": false}, "axis": {"values": [-0.25,-0.2,-0.15,-0.1,-0.05,0,0.05,0.1,0.15,0.2,0.25], "tickCount": 30, "labelExpr": "datum.value >= -0.05 ? '' + datum.value : ''", "title": "Cm", "titlePadding": 20}}
 }},
{"data": {"name": "exp"}, "transform": [{"filter": "datum.p == 'Cm' && datum.e == 'JAXA TWT'"}],
 "mark": {"type": "point", "filled": true, "stroke": "black", "strokeWidth": 1.5, "size": 100, "opacity": 1},
 "encoding": {
  "x": {"field": "a", "type": "quantitative"},
  "y": {"field": "v", "type": "quantitative"},
  "color": {"field": "e", "type": "nominal", "legend": null}
 }},
{"data": {"name": "cfd"}, "transform": [{"filter": "datum.p == 'Cm'"}],
 "mark": {"type": "line", "interpolate": "monotone", "strokeWidth": 1.3},
 "encoding": {
  "x": {"field": "a", "type": "quantitative"},
  "y": {"field": "v", "type": "quantitative"},
  "detail": {"field": "s"},
  "stroke": {"field": "g", "type": "nominal", "legend": null}
 }},
{"data": {"name": "cfd"}, "transform": [{"filter": "datum.p == 'Cm' && datum.t == 'BSL'"}],
 "mark": {"type": "point", "shape": "square", "filled": true, "stroke": "#1a1a1a", "strokeWidth": 0.8, "size": 72, "opacity": 1},
 "encoding": {
  "x": {"field": "a", "type": "quantitative"},
  "y": {"field": "v", "type": "quantitative"},
  "fill": {"field": "i", "type": "nominal", "legend": null}
 }},
{"data": {"name": "cfd"}, "transform": [{"filter": "datum.p == 'Cm'"}],
 "mark": {"type": "point", "filled": true, "stroke": "#1a1a1a", "strokeWidth": 0.9, "size": 80, "opacity": 1},
 "encoding": {
  "x": {"field": "a", "type": "quantitative"},
  "y": {"field": "v", "type": "quantitative"},
  "shape": {"field": "t", "type": "nominal", "legend": null},
  "fill": {"field": "i", "type": "nominal", "legend": null}
 }},
{"data": {"name": "exp"}, "transform": [{"filter": "datum.p == 'Cm' && datum.e != 'JAXA TWT'"}],
 "mark": {"type": "point", "filled": true, "stroke": "black", "strokeWidth": 1.6, "size": 110, "opacity": 1},
 "encoding": {
  "x": {"field": "a", "type": "quantitative"},
  "y": {"field": "v", "type": "quantitative"},
  "color": {"field": "e", "type": "nominal", "legend": null}
 }}
]
}
],
"config": {
 "font": "Lato",
 "view": {"stroke": null},
 "title": {"font": "Lato", "fontSize": 26, "fontWeight": "bold", "color": "#111"},
 "axis": {"domain": false, "ticks": false, "grid": true, "gridColor": "#1e1e1e", "gridDash": [8, 4], "gridWidth": 1.3, "labelFont": "Lato", "labelFontSize": 16, "labelColor": "#222", "labelOverlap": false, "labelFlush": false, "titleFont": "Lato", "titleFontWeight": "bold", "titleColor": "#111"},
 "axisX": {"labelPadding": 19, "titleFontSize": 23, "titlePadding": 13},
 "axisY": {"labelPadding": 19, "titleFontSize": 24},
 "legend": {"labelFont": "Lato", "titleFont": "Lato", "labelColor": "#222", "titleColor": "#222"}
}
}
